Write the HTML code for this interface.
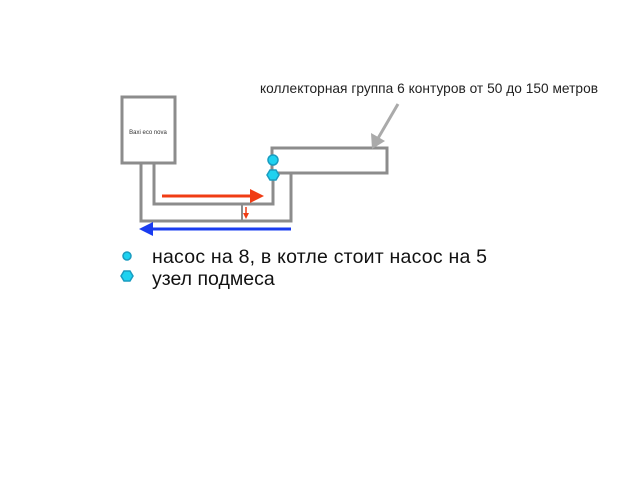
<!DOCTYPE html>
<html><head><meta charset="utf-8"><style>body{margin:0;background:#fff}svg{display:block}text{font-family:"Liberation Sans",sans-serif}</style></head><body>
<svg width="640" height="480" viewBox="0 0 640 480">
<g fill="none" stroke="#8c8c8c" stroke-width="3">
<rect x="122" y="97" width="53" height="66" fill="#fff"/>
<rect x="272" y="148" width="115" height="25" fill="#fff"/>
<polyline points="141,163 141,221 291,221 291,174"/>
<polyline points="154,163 154,204 273,204 273,176"/>
<line x1="242" y1="204" x2="242" y2="221" stroke-width="2"/>
</g>
<text x="148" y="134" font-size="6" fill="#333" text-anchor="middle">Baxi eco nova</text>
<text x="260" y="93" font-size="13.7" fill="#222" textLength="338">коллекторная группа 6 контуров от 50 до 150 метров</text>
<line x1="398" y1="104" x2="377" y2="140" stroke="#aaa" stroke-width="3"/>
<polygon points="372,149 371,133 385,141" fill="#aaa"/>
<line x1="162" y1="196" x2="252" y2="196" stroke="#f03c14" stroke-width="3"/>
<polygon points="264,196 250,189 250,203" fill="#f03c14"/>
<line x1="246" y1="207" x2="246" y2="214" stroke="#f03c14" stroke-width="1.5"/>
<polygon points="246,219 243,213 249,213" fill="#f03c14"/>
<line x1="291" y1="229" x2="150" y2="229" stroke="#1a3cf0" stroke-width="3"/>
<polygon points="139,229 153,222 153,236" fill="#1a3cf0"/>
<circle cx="273" cy="160" r="5" fill="#1ed2f0" stroke="#1a9cc0" stroke-width="1.5"/>
<polygon points="267,175 270,170 276,170 279,175 276,180 270,180" fill="#1ed2f0" stroke="#1a9cc0" stroke-width="1.5"/>
<circle cx="127" cy="256" r="4" fill="#1ed2f0" stroke="#1a9cc0" stroke-width="1.5"/>
<polygon points="121,276 124,271 130,271 133,276 130,281 124,281" fill="#1ed2f0" stroke="#1a9cc0" stroke-width="1.5"/>
<text x="152" y="263" font-size="19.5" fill="#111" textLength="335">насос на 8, в котле стоит насос на 5</text>
<text x="152" y="285" font-size="19.5" fill="#111">узел подмеса</text>
</svg>
</body></html>
